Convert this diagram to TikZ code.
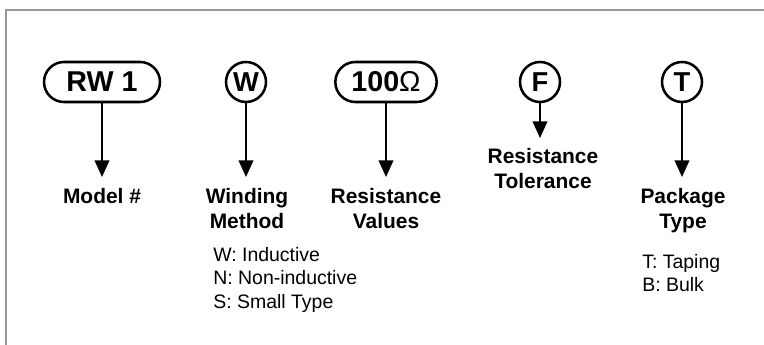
\documentclass[tikz,border=0pt]{standalone}
\usepackage{fontspec}
\setmainfont{Liberation Sans}
\usetikzlibrary{arrows.meta}

\begin{document}
\begin{tikzpicture}[x=0.75pt,y=-0.75pt,
    tag/.style={draw,line width=1.9pt,rounded corners=15pt,minimum height=30pt,inner xsep=0pt,font=\bfseries\fontsize{21.5}{24}\selectfont},
    letter/.style={draw,circle,line width=1.9pt,minimum size=30pt,inner sep=0pt,font=\bfseries\fontsize{20.5}{24}\selectfont},
    pointer/.style={line width=1.3pt,-{Triangle[length=12.5pt,width=11pt]}},
    title/.style={anchor=north,inner sep=0pt,align=center,font=\bfseries\fontsize{15.7}{18.75}\selectfont},
    codes/.style={anchor=north west,inner sep=0pt,align=left,font=\fontsize{14.6}{17.6}\selectfont}]
    \useasboundingbox (0,0) rectangle (764,345);
    \draw[black!40,line width=1.5pt] (5.5,345)--(5.5,10)--(764,10);
    % code parts
    \node[tag,minimum width=87pt] (rw) at (102,82) {RW 1};
    \node[letter] (w) at (246,82) {W};
    \node[tag,minimum width=76pt] (ohm) at (386,82) {100{\mdseries Ω}};
    \node[letter] (f) at (540,82) {F};
    \node[letter] (t) at (682,82) {T};
    % arrows
    \coordinate (rwend) at (102,177);
    \coordinate (wend) at (246,177);
    \coordinate (ohmend) at (386,177);
    \coordinate (fend) at (540,138);
    \coordinate (tend) at (682,177);
    \draw[pointer] (rw)--(rwend);
    \draw[pointer] (w)--(wend);
    \draw[pointer] (ohm)--(ohmend);
    \draw[pointer] (f)--(fend);
    \draw[pointer] (t)--(tend);
    % titles
    \node[title] (model) at (102,188) {Model \#};
    \node[title] (winding) at (247,188) {Winding\\Method};
    \node[title] (values) at (386,188) {Resistance\\Values};
    \node[title] (tolerance) at (543,148) {Resistance\\Tolerance};
    \node[title] (package) at (683,188) {Package\\Type};
    % options
    \node[codes] (windlist) at (213,247) {W: Inductive\\N: Non-inductive\\S: Small Type};
    \node[codes] (packlist) at (642,254) {T: Taping\\B: Bulk};
\end{tikzpicture}
\end{document}
